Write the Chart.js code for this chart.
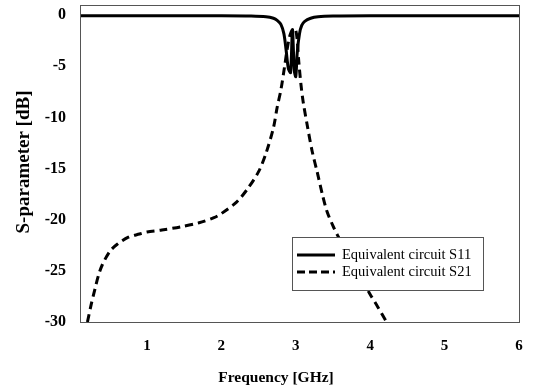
<!DOCTYPE html>
<html>
<head>
<meta charset="utf-8">
<script src="https://cdn.jsdelivr.net/npm/chart.js@4.4.0/dist/chart.umd.min.js"></script>
<style>
  html, body { margin: 0; padding: 0; background: #fff; }
  #wrap { width: 534px; height: 391px; }
</style>
</head>
<body>
<div id="wrap"><canvas id="c" width="534" height="391"></canvas></div>
<script>
// S11 of the equivalent circuit
const freqS11 = [0.1, 0.5, 1, 1.5, 2, 2.4, 2.6, 2.7, 2.75, 2.8, 2.84, 2.87, 2.9, 2.93, 2.955, 2.98, 3.0, 3.02, 3.05, 3.08, 3.12, 3.2, 3.3, 3.5, 4, 5, 6];
const s11 = [-0.05, -0.05, -0.05, -0.05, -0.05, -0.08, -0.15, -0.3, -0.5, -0.9, -1.8, -3.4, -5.2, -5.6, -1.4, -5.4, -6.0, -3.6, -1.8, -1.0, -0.6, -0.3, -0.15, -0.08, -0.05, -0.05, -0.05];

// S21 of the equivalent circuit
const freqS21 = [0.2, 0.25, 0.3, 0.35, 0.4, 0.5, 0.6, 0.75, 0.9, 1.0, 1.2, 1.45, 1.7, 1.9, 2.0, 2.2, 2.35, 2.5, 2.6, 2.7, 2.75, 2.8, 2.85, 2.88, 2.91, 2.94, 2.97, 3.0, 3.02, 3.04, 3.07, 3.1, 3.16, 3.22, 3.29, 3.36, 3.42, 3.5, 3.56, 3.7, 3.85, 4.0, 4.1, 4.22];
const s21 = [-30, -28.3, -26.8, -25.4, -24.4, -23.1, -22.4, -21.7, -21.4, -21.2, -21.0, -20.7, -20.3, -19.8, -19.4, -18.3, -17.0, -15.3, -13.5, -11.0, -9.0, -7.3, -5.0, -3.5, -2.3, -1.6, -1.3, -1.5, -2.5, -4.5, -6.8, -8.5, -11.0, -13.3, -15.4, -17.6, -19.2, -20.6, -21.5, -23.4, -25.4, -27.3, -28.5, -30];

const seriesNames = ['Equivalent circuit S11', 'Equivalent circuit S21'];
const xTitle = 'Frequency [GHz]';
const yTitle = 'S-parameter [dB]';

const toPts = (xs, ys) => xs.map((x, i) => ({ x: x, y: ys[i] }));
const serif = '"Liberation Serif", "Times New Roman", serif';

// frame, axis titles and the legend box inside the plot
const framePlugin = {
    id: 'frame',
    afterDraw(chart) {
        const ctx = chart.ctx;
        const a = chart.chartArea;
        ctx.save();
        ctx.strokeStyle = '#555';
        ctx.lineWidth = 1;
        ctx.strokeRect(a.left + 0.5, a.top + 0.5, a.right - a.left, a.bottom - a.top);

        // axis titles
        ctx.fillStyle = '#000';
        ctx.textAlign = 'center';
        ctx.textBaseline = 'alphabetic';
        ctx.font = 'bold 15.5px ' + serif;
        ctx.fillText(xTitle, 276, 382);
        ctx.save();
        ctx.translate(29, 162);
        ctx.rotate(-Math.PI / 2);
        ctx.font = 'bold 19px ' + serif;
        ctx.fillText(yTitle, 0, 0);
        ctx.restore();

        // legend
        const bx = 292, by = 237, bw = 191, bh = 53;
        ctx.fillStyle = '#fff';
        ctx.fillRect(bx, by, bw, bh);
        ctx.strokeRect(bx + 0.5, by + 0.5, bw, bh);
        ctx.strokeStyle = '#000';
        ctx.lineWidth = 3;
        const rows = [255, 272];
        rows.forEach((ry, i) => {
            ctx.setLineDash(i === 0 ? [] : [8, 4]);
            ctx.beginPath();
            ctx.moveTo(297, ry);
            ctx.lineTo(335, ry);
            ctx.stroke();
        });
        ctx.setLineDash([]);
        ctx.fillStyle = '#000';
        ctx.textAlign = 'left';
        ctx.font = '14.5px ' + serif;
        ctx.textBaseline = 'middle';
        rows.forEach((ry, i) => ctx.fillText(seriesNames[i], 342, ry));
        ctx.restore();
    }
};

new Chart(document.getElementById('c'), {
    type: 'line',
    data: {
        datasets: [
            {
                label: seriesNames[0],
                data: toPts(freqS11, s11),
                borderColor: '#000',
                borderWidth: 3,
                pointRadius: 0,
                tension: 0.3,
                fill: false,
            },
            {
                label: seriesNames[1],
                data: toPts(freqS21, s21),
                borderColor: '#000',
                borderWidth: 3,
                borderDash: [8, 5],
                pointRadius: 0,
                tension: 0.3,
                fill: false,
            },
        ],
    },
    options: {
        responsive: false,
        animation: false,
        layout: { padding: { top: 5, right: 15, left: 0, bottom: 0 } },
        plugins: { legend: { display: false }, tooltip: { enabled: false } },
        scales: {
            x: {
                type: 'linear',
                min: 0.1,
                max: 6,
                grid: { display: false, drawTicks: true, tickLength: 4 },
                border: { color: '#555' },
                ticks: {
                    stepSize: 1,
                    includeBounds: false,
                    color: '#000',
                    padding: 11,
                    font: { family: serif, size: 15, weight: 'bold' },
                },
                afterFit: (scale) => { scale.height = 69; },
            },
            y: {
                min: -30,
                max: 1,
                grid: { display: false, drawTicks: true, tickLength: 6 },
                border: { color: '#555' },
                ticks: {
                    stepSize: 5,
                    includeBounds: false,
                    color: '#000',
                    padding: 8,
                    font: { family: serif, size: 16, weight: 'bold' },
                },
                afterFit: (scale) => {
                    scale.width = 80;
                    scale.paddingTop = 0;
                    scale.paddingBottom = 0;
                },
            },
        },
    },
    plugins: [framePlugin],
});
</script>
</body>
</html>
